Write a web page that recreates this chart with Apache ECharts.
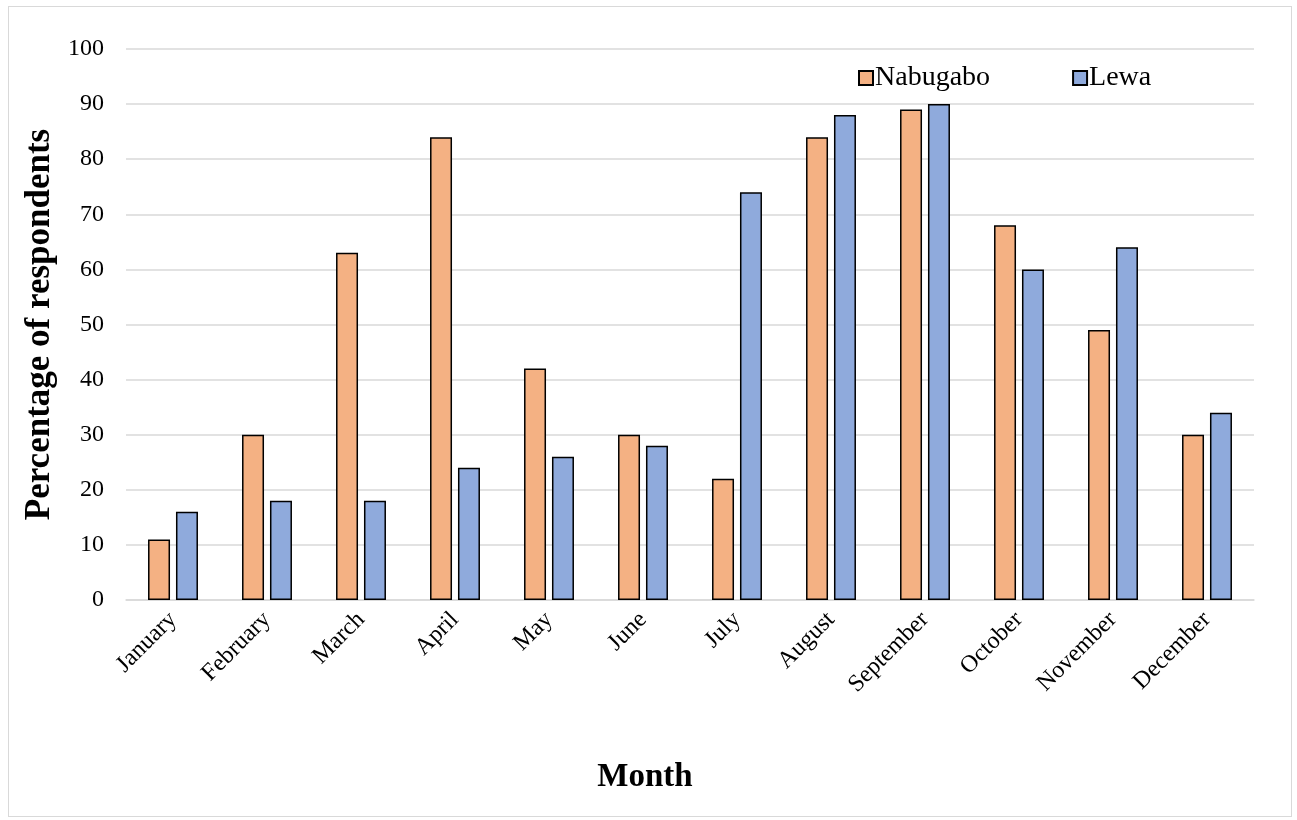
<!DOCTYPE html>
<html>
<head>
<meta charset="utf-8">
<script src="https://cdn.jsdelivr.net/npm/echarts@6/dist/echarts.min.js"></script>
<style>
  html, body { margin: 0; padding: 0; background: #fff; }
  #frame { position: absolute; left: 8px; top: 6px; width: 1284px; height: 811px; border: 1.5px solid #d9d9d9; box-sizing: border-box; }
  #chart { position: absolute; left: 0; top: 0; width: 1297px; height: 820px; }
</style>
</head>
<body>
<div id="frame"></div>
<div id="chart"></div>
<script>
const months = ['January', 'February', 'March', 'April', 'May', 'June', 'July',
  'August', 'September', 'October', 'November', 'December'];
const nabugabo = [11, 30, 63, 84, 42, 30, 22, 84, 89, 68, 49, 30];
const lewa = [16, 18, 18, 24, 26, 28, 74, 88, 90, 60, 64, 34];
const yTicks = { min: 0, max: 100, interval: 10 };

const serif = '"Liberation Serif", "Times New Roman", serif';
const chart = echarts.init(document.getElementById('chart'));

const barSeries = (name, data, color) => ({
  name,
  type: 'bar',
  data,
  barWidth: 22,
  barGap: '27%',
  itemStyle: { color, borderColor: '#000', borderWidth: 1.5 }
});

chart.setOption({
  animation: false,
  textStyle: { fontFamily: serif },
  title: {
    text: 'Month',
    left: 640,
    top: 756,
    textAlign: 'center',
    textStyle: { fontFamily: serif, fontSize: 33, fontWeight: 'bold', color: '#000' }
  },
  grid: { left: 126, right: 43, top: 49, bottom: 220, containLabel: false },
  legend: {
    top: 59,
    left: 853,
    itemGap: 82,
    itemWidth: 14,
    itemHeight: 14,
    icon: 'rect',
    textStyle: { fontFamily: serif, fontSize: 28, color: '#000', padding: [0, 0, 0, -3] },
    data: ['Nabugabo', 'Lewa']
  },
  xAxis: {
    type: 'category',
    data: months,
    axisLine: { lineStyle: { color: '#d9d9d9', width: 1.5 } },
    axisTick: { show: false },
    axisLabel: { rotate: 45, fontFamily: serif, fontSize: 24, color: '#000', margin: 16, interval: 0 }
  },
  yAxis: {
    type: 'value',
    min: yTicks.min,
    max: yTicks.max,
    interval: yTicks.interval,
    axisLine: { show: false },
    axisTick: { show: false },
    splitLine: { lineStyle: { color: '#d9d9d9', width: 1.5 } },
    axisLabel: { fontFamily: serif, fontSize: 24, color: '#000', margin: 22 },
    name: 'Percentage of respondents',
    nameLocation: 'middle',
    nameGap: 68,
    nameTextStyle: { fontFamily: serif, fontSize: 35, fontWeight: 'bold', color: '#000' }
  },
  series: [
    barSeries('Nabugabo', nabugabo, '#F4B183'),
    barSeries('Lewa', lewa, '#8FAADC')
  ]
});
</script>
</body>
</html>
